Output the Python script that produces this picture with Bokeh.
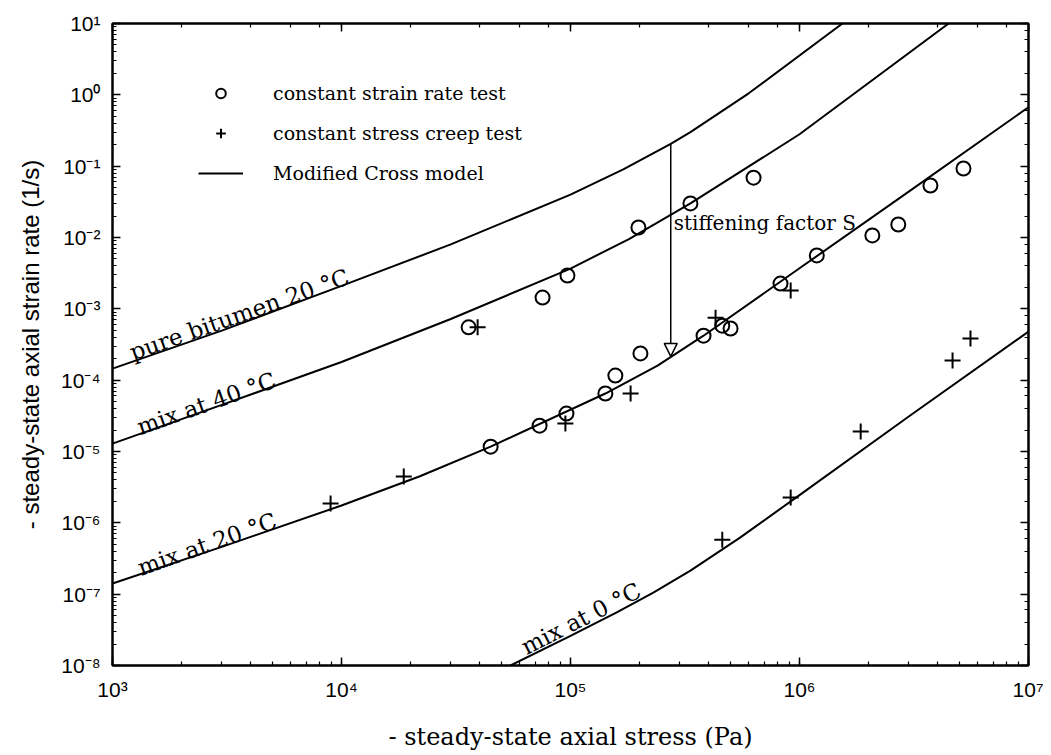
from bokeh.plotting import figure
from bokeh.models import (LogAxis, CustomJSTickFormatter, Arrow, NormalHead,
                          Legend, LegendItem, Label)
from bokeh.core.properties import value
from bokeh.embed import file_html
from bokeh.resources import INLINE

# ---------------- data ----------------
stress_ticks = [1e3, 1e4, 1e5, 1e6, 1e7]
stress_tick_labels = ["10³", "10⁴", "10⁵", "10⁶", "10⁷"]
rate_ticks = [1e-8, 1e-7, 1e-6, 1e-5, 1e-4, 1e-3, 1e-2, 1e-1, 1e0, 1e1]
rate_tick_labels = ["10⁻⁸", "10⁻⁷", "10⁻⁶", "10⁻⁵", "10⁻⁴", "10⁻³",
                    "10⁻²", "10⁻¹", "10⁰", "10¹"]

# Modified Cross model curves
pure_stress = [1e3, 3e3, 1e4, 3e4, 1e5, 1.7e5, 2.74e5, 3.34e5, 6e5, 1.54e6]
pure_rate = [1.45e-4, 4.95e-4, 2.1e-3, 8.0e-3, 0.040, 0.090, 0.205, 0.30, 1.05, 10]

mix40_stress = [1e3, 3e3, 1e4, 3e4, 1e5, 1.8e5, 3.34e5, 1e6, 4.48e6]
mix40_rate = [1.29e-5, 4.5e-5, 1.8e-4, 7.2e-4, 3.67e-3, 9.5e-3, 0.030, 0.28, 10]

mix20_stress = [1e3, 3e3, 1e4, 2.2e4, 4.48e4, 1.42e5, 2.4e5, 3.81e5, 1e6, 3e6, 1e7]
mix20_rate = [1.41e-7, 4.6e-7, 1.75e-6, 4.5e-6, 1.17e-5, 6.5e-5, 1.6e-4, 4.2e-4,
              3.7e-3, 0.044, 0.67]

mix0_stress = [5.47e4, 1e5, 1.6e5, 2.3e5, 3.34e5, 5.5e5, 1e6, 3e6, 1e7]
mix0_rate = [1e-8, 2.6e-8, 5.6e-8, 1.05e-7, 2.14e-7, 6.2e-7, 2.45e-6, 3.1e-5, 4.8e-4]

# constant strain rate tests (circles)
srt_stress = [3.59e4, 7.55e4, 9.7e4, 1.98e5, 3.34e5, 6.3e5,
              4.48e4, 7.33e4, 9.6e4, 1.42e5, 1.57e5, 2.02e5, 3.81e5, 4.6e5,
              5.0e5, 8.26e5, 1.19e6, 2.08e6, 2.7e6, 3.73e6, 5.2e6]
srt_rate = [5.5e-4, 1.44e-3, 2.93e-3, 0.0138, 0.030, 0.069,
            1.17e-5, 2.3e-5, 3.4e-5, 6.5e-5, 1.16e-4, 2.37e-4, 4.2e-4, 5.8e-4,
            5.3e-4, 2.26e-3, 5.6e-3, 0.0107, 0.0152, 0.0536, 0.0927]

# constant stress creep tests (pluses)
creep_stress = [3.93e4, 8.96e3, 1.87e4, 9.5e4, 1.83e5, 4.3e5, 9.15e5,
                4.6e5, 9.15e5, 1.85e6, 4.66e6, 5.58e6]
creep_rate = [5.5e-4, 1.87e-6, 4.46e-6, 2.47e-5, 6.5e-5, 7.5e-4, 1.8e-3,
              5.8e-7, 2.26e-6, 1.9e-5, 1.88e-4, 3.84e-4]

# curve labels: text, anchor stress, anchor rate, angle (deg)
curve_labels = ["pure bitumen 20 °C", "mix at 40 °C", "mix at 20 °C", "mix at 0 °C"]
curve_label_x = [1.2e3, 1.29e3, 1.3e3, 6.2e4]
curve_label_y = [2.4e-4, 2.15e-5, 2.3e-7, 1.75e-8]
curve_label_angle = [19.5, 19.5, 19.5, 27]

# stiffening factor arrow
arrow_stress = 2.74e5
arrow_from = 0.205
arrow_to = 2.15e-4
arrow_text = "stiffening factor S"

# ---------------- figure ----------------
SERIF = "DejaVu Serif"
SANS = "Liberation Sans"

p = figure(width=1043, height=753, x_axis_type="log", y_axis_type="log",
           x_range=(1e3, 1e7), y_range=(1e-8, 1e1),
           output_backend="svg", toolbar_location=None,
           min_border_left=112, min_border_right=15,
           min_border_top=23, min_border_bottom=88,
           background_fill_color="white", border_fill_color="white")
p.grid.visible = False
p.outline_line_color = "black"
p.outline_line_width = 2

def fmt(tvals, labs):
    return CustomJSTickFormatter(args=dict(tvals=tvals, labs=labs), code="""
        const e = Math.round(Math.log10(tick));
        for (let i = 0; i < tvals.length; i++) {
            if (Math.round(Math.log10(tvals[i])) === e) return labs[i];
        }
        return '';
    """)

p.add_layout(LogAxis(formatter=CustomJSTickFormatter(code="return '';")), "right")
p.add_layout(LogAxis(formatter=CustomJSTickFormatter(code="return '';")), "above")

for ax in p.xaxis + p.yaxis:
    ax.axis_line_width = 2
    ax.axis_line_color = "black"
    ax.major_tick_in = 8
    ax.major_tick_out = 0
    ax.minor_tick_in = 4
    ax.minor_tick_out = 0
    ax.major_tick_line_width = 1.5
    ax.minor_tick_line_width = 1.2
    ax.major_tick_line_color = "black"
    ax.minor_tick_line_color = "black"
    ax.major_label_text_font = SANS
    ax.major_label_text_font_size = "21px"
    ax.major_label_text_color = "black"

p.below[0].formatter = fmt(stress_ticks, stress_tick_labels)
p.left[0].formatter = fmt(rate_ticks, rate_tick_labels)
p.below[0].major_label_standoff = 12
p.left[0].major_label_standoff = 12
p.right[0].major_label_standoff = 0
p.above[0].major_label_standoff = 0

p.below[0].axis_label = "- steady-state axial stress (Pa)"
p.below[0].axis_label_text_font = SERIF
p.below[0].axis_label_text_font_size = "24px"
p.below[0].axis_label_text_font_style = "normal"
p.below[0].axis_label_text_color = "black"
p.below[0].axis_label_standoff = 19
p.left[0].axis_label = "- steady-state axial strain rate (1/s)"
p.left[0].axis_label_text_font = SANS
p.left[0].axis_label_text_font_size = "24px"
p.left[0].axis_label_text_font_style = "normal"
p.left[0].axis_label_text_color = "black"
p.left[0].axis_label_standoff = 14

# model curves
lines = []
for xs, ys in [(pure_stress, pure_rate), (mix40_stress, mix40_rate),
               (mix20_stress, mix20_rate), (mix0_stress, mix0_rate)]:
    lines.append(p.line(xs, ys, line_color="black", line_width=2))

# data points
circ = p.scatter(srt_stress, srt_rate, marker="circle", size=14,
                 fill_color=None, line_color="black", line_width=2)
plus = p.scatter(creep_stress, creep_rate, marker="cross", size=16,
                 line_color="black", line_width=2)

# curve labels
p.text(x=curve_label_x, y=curve_label_y, text=curve_labels,
       angle=curve_label_angle, angle_units="deg",
       text_font=value(SERIF), text_font_size="23px",
       text_align="left", text_baseline="alphabetic", text_color="black")

# arrow and its label
p.add_layout(Arrow(end=NormalHead(size=13, fill_color="white",
                                  line_color="black", line_width=1.5),
                   x_start=arrow_stress, y_start=arrow_from,
                   x_end=arrow_stress, y_end=arrow_to,
                   line_color="black", line_width=1.5))
p.add_layout(Label(x=arrow_stress * 1.03, y=0.0162, text=arrow_text,
                   text_font=SERIF, text_font_size="20px",
                   text_baseline="middle", text_align="left",
                   text_color="black"))

# legend
legend = Legend(items=[
    LegendItem(label="constant strain rate test", renderers=[circ]),
    LegendItem(label="constant stress creep test", renderers=[plus]),
    LegendItem(label="Modified Cross model", renderers=[lines[0]]),
], location=(86, 480))
legend.label_text_font = SERIF
legend.label_text_font_size = "19px"
legend.label_text_color = "black"
legend.label_standoff = 30
legend.glyph_width = 45
legend.glyph_height = 24
legend.label_height = 24
legend.spacing = 16
legend.padding = 0
legend.margin = 0
legend.border_line_alpha = 0
legend.background_fill_alpha = 0
p.add_layout(legend)

open("out.html", "w").write(file_html(p, INLINE))
